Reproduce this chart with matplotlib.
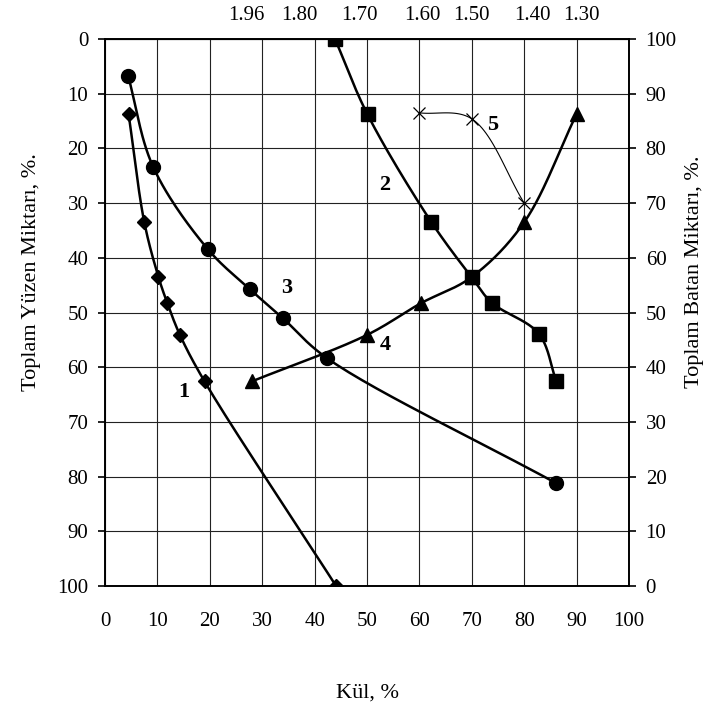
import numpy as np
import matplotlib
matplotlib.use("Agg")
import matplotlib.pyplot as plt

plt.rcParams['font.family'] = ['Liberation Serif', 'DejaVu Serif']

# curve 1 - diamonds (left axis, Yuzen)
ash1 = [4.5, 7.5, 10.2, 11.9, 14.3, 19.0, 44.1]
float1 = [13.7, 33.5, 43.5, 48.3, 54.1, 62.6, 100.0]
# curve 3 - circles (left axis)
ash3 = [4.4, 9.2, 19.6, 27.6, 33.9, 42.3, 86.1]
float3 = [6.7, 23.4, 38.4, 45.7, 51.0, 58.3, 81.2]
# curve 2 - squares (right axis, Batan)
ash2 = [43.9, 50.1, 62.3, 70.0, 73.8, 82.8, 86.1]
sink2 = [100.0, 86.2, 66.5, 56.4, 51.8, 46.1, 37.5]
# curve 4 - triangles (right axis)
ash4 = [28.0, 50.0, 60.3, 70.0, 80.0, 90.0]
sink4 = [37.4, 45.9, 51.7, 56.5, 66.5, 86.3]
# curve 5 - crosses (right axis)
ash5 = [60.0, 70.0, 80.0]
sink5 = [86.5, 85.4, 70.0]

# density scale on top
dens_pos = [27.0, 37.0, 48.5, 60.5, 70.0, 81.5, 91.0]
dens_lbl = ['1.96', '1.80', '1.70', '1.60', '1.50', '1.40', '1.30']

# curve numbers (left axis coords)
num_lbl = ['1', '2', '3', '4', '5']
num_x = [15.1, 53.3, 34.6, 53.4, 73.9]
num_y = [64.6, 26.6, 45.5, 56.0, 15.7]


def smooth(x, y, n=30, alpha=0.5):
    # centripetal catmull-rom, close to excel's smoothed line
    p = np.column_stack([x, y]).astype(float)
    p = np.vstack([2 * p[0] - p[1], p, 2 * p[-1] - p[-2]])
    out = []
    for i in range(1, len(p) - 2):
        p0, p1, p2, p3 = p[i - 1], p[i], p[i + 1], p[i + 2]
        t0 = 0.0
        t1 = t0 + np.linalg.norm(p1 - p0) ** alpha
        t2 = t1 + np.linalg.norm(p2 - p1) ** alpha
        t3 = t2 + np.linalg.norm(p3 - p2) ** alpha
        t = np.linspace(t1, t2, n)[:, None]
        a1 = (t1 - t) / (t1 - t0) * p0 + (t - t0) / (t1 - t0) * p1
        a2 = (t2 - t) / (t2 - t1) * p1 + (t - t1) / (t2 - t1) * p2
        a3 = (t3 - t) / (t3 - t2) * p2 + (t - t2) / (t3 - t2) * p3
        b1 = (t2 - t) / (t2 - t0) * a1 + (t - t0) / (t2 - t0) * a2
        b2 = (t3 - t) / (t3 - t1) * a2 + (t - t1) / (t3 - t1) * a3
        c = (t2 - t) / (t2 - t1) * b1 + (t - t1) / (t2 - t1) * b2
        out.append(c)
    s = np.vstack(out)
    return s[:, 0], s[:, 1]


fig = plt.figure(figsize=(7.11, 7.05), dpi=100)
ax = fig.add_axes([105 / 711, 1 - 586 / 705, 524 / 711, 547 / 705])
ax2 = ax.twinx()

ax.set_xlim(0, 100)
ax.set_ylim(100, 0)
ax2.set_ylim(0, 100)

ax.set_xticks(np.arange(0, 101, 10))
ax.set_yticks(np.arange(0, 101, 10))
ax2.set_yticks(np.arange(0, 101, 10))
ax.grid(True, color='#222222', lw=0.8)
ax.set_axisbelow(True)

for a in (ax, ax2):
    for s in a.spines.values():
        s.set_linewidth(1.2)

ax.tick_params(axis='x', length=0, pad=19, labelsize=15)
ax.tick_params(axis='y', direction='out', length=5, width=1.2, pad=7, labelsize=15)
ax2.tick_params(axis='y', direction='out', length=5, width=1.2, pad=7, labelsize=15)

lw = 1.8
sx, sy = smooth(ash1, float1)
ax.plot(sx, sy, color='black', lw=lw)
ax.plot(ash1, float1, ls='none', marker='D', ms=7.5, color='black')

sx, sy = smooth(ash3, float3)
ax.plot(sx, sy, color='black', lw=lw)
ax.plot(ash3, float3, ls='none', marker='o', ms=10, color='black')

sx, sy = smooth(ash2, sink2)
ax2.plot(sx, sy, color='black', lw=lw)
ax2.plot(ash2, sink2, ls='none', marker='s', ms=9.5, color='black')

sx, sy = smooth(ash4, sink4)
ax2.plot(sx, sy, color='black', lw=lw)
ax2.plot(ash4, sink4, ls='none', marker='^', ms=10, color='black')

sx, sy = smooth(ash5, sink5)
ax2.plot(sx, sy, color='black', lw=0.8)
ax2.plot(ash5, sink5, ls='none', marker='x', ms=9, mew=0.9, color='black')

for t, x, y in zip(num_lbl, num_x, num_y):
    ax.text(x, y, t, fontsize=16, fontweight='bold', ha='center', va='center')

top = ax.secondary_xaxis('top')
top.set_xticks(dens_pos)
top.set_xticklabels(dens_lbl)
top.tick_params(length=0, pad=10, labelsize=15)

fig.text(367 / 711, 1 - 693 / 705, 'Kül, %', fontsize=16, ha='center', va='center')
fig.text(32 / 711, 1 - 272 / 705, 'Toplam Yüzen Miktarı, %.', fontsize=16,
         rotation=90, ha='center', va='center')
fig.text(695 / 711, 1 - 272 / 705, 'Toplam Batan Miktarı, %.', fontsize=16,
         rotation=90, ha='center', va='center')

fig.savefig('out.png', dpi=100)
